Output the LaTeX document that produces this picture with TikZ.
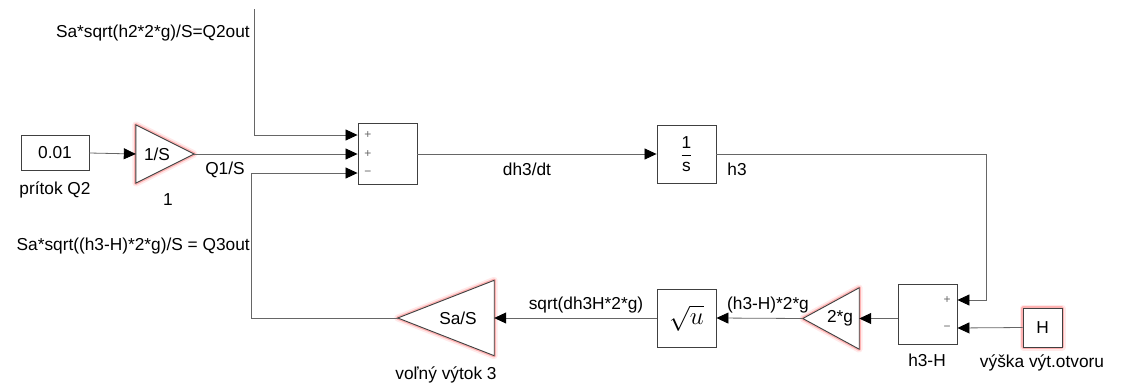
\documentclass[tikz,border=0pt]{standalone}
\usepackage{fontspec}
\setmainfont{Liberation Sans}
\usetikzlibrary{arrows.meta, calc}

\tikzset{
  block/.style={draw=black!75, line width=0.9pt, fill=white},
  glow/.style={preaction={draw=red!70, line width=7pt, opacity=0.12, line join=round},
               preaction={draw=red!80, line width=3.5pt, opacity=0.3, line join=round}},
  sig/.style={draw=black!60, line width=0.8pt, -{Triangle[length=12pt, width=11pt, black]}},
  sgn/.style={font=\fontsize{12}{13}\selectfont, text=black!60}
}

\begin{document}
\begin{tikzpicture}[x=1pt, y=-1pt, every node/.style={font=\fontsize{17.3}{20}\selectfont, inner sep=0pt}]
  \useasboundingbox (0,0) rectangle (1125,383);

  \begin{scope}[every node/.append style={block}]
    \node (c001) [minimum width=68, minimum height=35] at (55,153) {0.01};
    \node (sum1) [minimum width=59, minimum height=61] at (387.5,154) {};
    \node (int) [minimum width=59, minimum height=58] at (686.5,154) {${\displaystyle\frac{\mbox{1}}{\mbox{s}}}$};
    \node (sqrtu) [minimum width=59, minimum height=58, font=\fontsize{24}{27}\selectfont] at (686.5,318) {$\sqrt{u}$};
    \node (sum2) [minimum width=59, minimum height=60] at (927.5,314) {};
    \node (cH) [glow, minimum width=39, minimum height=39] at (1042.5,327.5) {H};
  \end{scope}

  \node (g1) [minimum width=58, minimum height=58] at (165,154) {};
  \node (gSa) [minimum width=96, minimum height=75] at (446,318) {};
  \node (g2g) [minimum width=56, minimum height=61] at (831,318.5) {};
  \draw[block, glow] (g1.north west) -- (g1.east) -- (g1.south west) -- cycle;
  \draw[block, glow] (gSa.north east) -- (gSa.west) -- (gSa.south east) -- cycle;
  \draw[block, glow] (g2g.north east) -- (g2g.west) -- (g2g.south east) -- cycle;
  \node (g1txt) at ($(g1)+(-8,0)$) {1/S};
  \node (gSatxt) at ($(gSa)+(12,0)$) {Sa/S};
  \node (g2gtxt) at ($(g2g)+(9,0)$) {2*g};

  \node (s1a) [sgn] at (368,135) {+};
  \node (s1b) [sgn] at (368,154) {+};
  \node (s1c) [sgn] at (368,173) {−};
  \node (s2a) [sgn] at (947,300) {+};
  \node (s2b) [sgn] at (947,328) {−};

  \coordinate (q2top) at (254,9);
  \coordinate (q3turn) at (251,173);
  \coordinate (h3turn) at (986,154);

  \path (c001.east) edge[sig] (g1.west);
  \path (g1.east) edge[sig] (sum1.west);
  \draw[sig] (q2top) |- ($(sum1.west)+(0,-19)$);
  \draw[sig] (gSa.west) -| (q3turn) -- ($(sum1.west)+(0,19)$);
  \path (sum1.east) edge[sig] (int.west);
  \draw[sig] (int.east) -- (h3turn) |- ($(sum2.east)+(0,-14)$);
  \path (cH.west) edge[sig] ($(sum2.east)+(0,14)$);
  \path (sum2.west |- g2g.east) edge[sig] (g2g.east);
  \path (g2g.west) edge[sig] (sqrtu.east);
  \path (sqrtu.west) edge[sig] (gSa.east);

  \node (lq2) [anchor=east] at (250,33) {Sa*sqrt(h2*2*g)/S=Q2out};
  \node (lq3) [anchor=east] at (250,246) {Sa*sqrt((h3-H)*2*g)/S = Q3out};
  \node (lc) at (55,190) {prítok Q2};
  \node (lg1) at (168,200) {1};
  \node (lq1) at (225,170) {Q1/S};
  \node (ldh) at (527,169) {dh3/dt};
  \node (lh3) at (737,169) {h3};
  \node (lsq) at (586,305) {sqrt(dh3H*2*g)};
  \node (lhh) at (768,305) {(h3-H)*2*g};
  \node (lsa) at (446,375) {voľný výtok 3};
  \node (ls2) at (927,360) {h3-H};
  \node (lH) at (1042,363) {výška výt.otvoru};
\end{tikzpicture}
\end{document}
